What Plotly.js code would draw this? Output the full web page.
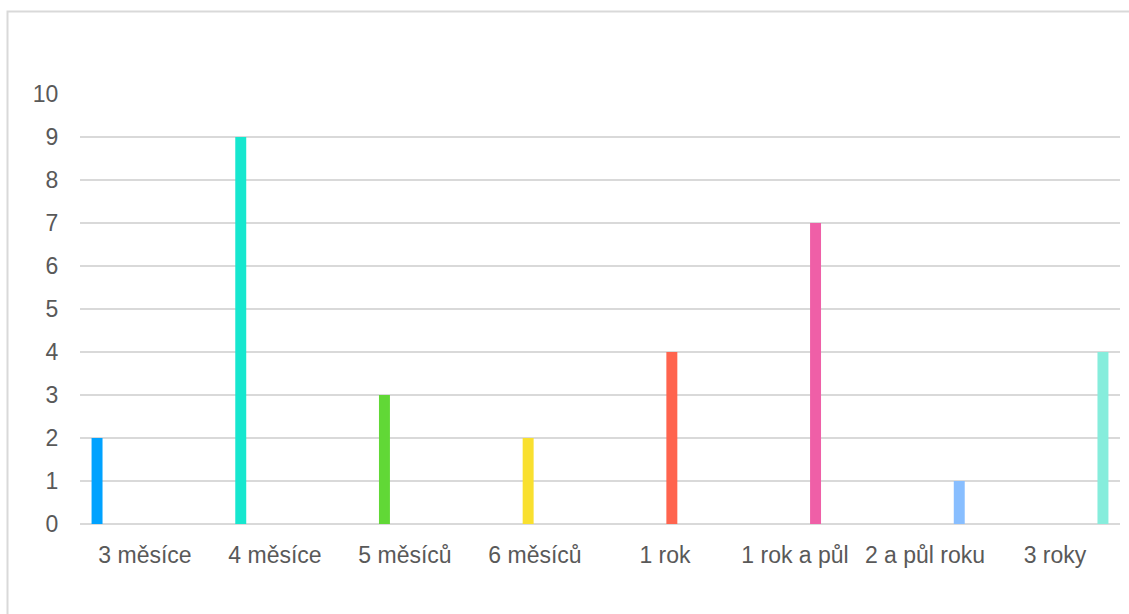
<!DOCTYPE html>
<html>
<head>
<meta charset="utf-8">
<script src="https://cdn.plot.ly/plotly-3.0.1.min.js"></script>
<style>
  html, body { margin: 0; padding: 0; background: #ffffff; }
  #chart { width: 1129px; height: 614px; }
</style>
</head>
<body>
<div id="chart"></div>
<script>
// Délka období – počet odpovědí
const categories = ["3 měsíce", "4 měsíce", "5 měsíců", "6 měsíců", "1 rok", "1 rok a půl", "2 a půl roku", "3 roky"];
const counts = [2, 9, 3, 2, 4, 7, 1, 4];
const colors = ["#00A2FF", "#16E7CF", "#61D836", "#F9E02F", "#FF644E", "#EF5FA7", "#88BEFF", "#86EDDC"];
const yTicks = [0, 1, 2, 3, 4, 5, 6, 7, 8, 9, 10];

const W = 1129, H = 614;
const margin = { l: 80, r: 9, t: 94, b: 90 };

// One series per category, each carrying only its own value,
// so the bars sit in grouped slots across the categories.
const traces = categories.map((cat, i) => ({
  type: "bar",
  name: cat,
  x: categories,
  y: categories.map((c, j) => (j === i ? counts[i] : null)),
  marker: { color: colors[i], line: { width: 0 } },
  hoverinfo: "x+y"
}));

const pw = W - margin.l - margin.r;
const ph = H - margin.t - margin.b;
const px = v => (v - margin.l) / pw;
const py = v => (H - margin.b - v) / ph;

const layout = {
  width: W,
  height: H,
  margin: margin,
  paper_bgcolor: "#ffffff",
  plot_bgcolor: "#ffffff",
  showlegend: false,
  barmode: "group",
  bargap: 0.157,
  bargroupgap: 0.2,
  font: { family: "Liberation Sans, Arial, sans-serif", size: 23, color: "#595959" },
  xaxis: {
    type: "category",
    categoryorder: "array",
    categoryarray: categories,
    showgrid: false,
    showline: false,
    zeroline: false,
    ticks: "outside",
    ticklen: 10,
    tickcolor: "rgba(0,0,0,0)",
    tickfont: { size: 23, color: "#595959" },
    fixedrange: true
  },
  yaxis: {
    range: [0, 10],
    tickvals: yTicks,
    ticktext: yTicks.map(String),
    showgrid: true,
    gridcolor: "#d9d9d9",
    gridwidth: 1.5,
    zeroline: true,
    zerolinecolor: "#d9d9d9",
    zerolinewidth: 1.5,
    showline: false,
    ticks: "outside",
    ticklen: 16,
    tickcolor: "rgba(0,0,0,0)",
    tickfont: { size: 23, color: "#595959" },
    fixedrange: true
  },
  shapes: [
    {
      type: "rect",
      xref: "paper", yref: "paper",
      x0: px(7.5), x1: px(W + 20),
      y0: py(H + 20), y1: py(11.5),
      line: { color: "#d9d9d9", width: 2 },
      fillcolor: "rgba(0,0,0,0)",
      layer: "below"
    }
  ]
};

Plotly.newPlot("chart", traces, layout, { displayModeBar: false, staticPlot: true });
</script>
</body>
</html>
